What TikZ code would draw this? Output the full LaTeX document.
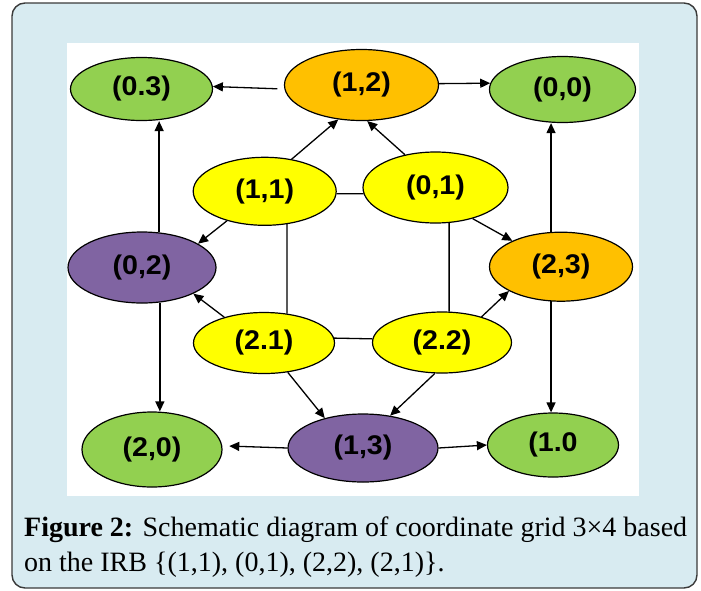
\documentclass[tikz,border=0pt]{standalone}
\usepackage{fontspec}
\setmainfont{Liberation Serif}
\newfontfamily\lblfont[FakeStretch=1.06]{Liberation Sans}
\usetikzlibrary{shapes.geometric,arrows.meta}

\definecolor{panelblue}{HTML}{D8EBF1}
\definecolor{framegray}{HTML}{3A3A3A}
\definecolor{cgreen}{HTML}{92D050}
\definecolor{corange}{HTML}{FFC000}
\definecolor{cyellow}{HTML}{FFFF00}
\definecolor{cpurple}{HTML}{8064A2}

\begin{document}
\begin{tikzpicture}[x=1pt,y=-1pt,
  cell/.style={ellipse, draw=black, line width=1.2pt, inner sep=0pt,
    font=\lblfont\bfseries\fontsize{27}{27}\selectfont},
  arr/.style={-{Triangle[length=10pt,width=9pt]}, line width=1.3pt},
  link/.style={line width=1.3pt}]

% page size and frame
\useasboundingbox (0,0) rectangle (701,590);
\draw[fill=panelblue, draw=framegray, line width=1.4pt, rounded corners=13pt]
  (12,3) rectangle (697,588);
\fill[white] (67,43) rectangle (639,496);

% grid cells
\node[cell, fill=cgreen,  minimum width=142pt, minimum height=63pt] (n03) at (141.5,89)  {(0.3)};
\node[cell, fill=corange, minimum width=154pt, minimum height=71pt] (n12) at (361.5,85)  {(1,2)};
\node[cell, fill=cgreen,  minimum width=146pt, minimum height=66pt] (n00) at (562.5,89.5) {(0,0)};
\node[cell, fill=cyellow, minimum width=143pt, minimum height=68pt] (n11) at (264.7,191.3) {(1,1)};
\node[cell, fill=cyellow, minimum width=145pt, minimum height=71pt] (n01) at (435.5,187.5) {(0,1)};
\node[cell, fill=cpurple, minimum width=148pt, minimum height=71pt] (n02) at (142,267.5)  {(0,2)};
\node[cell, fill=corange, minimum width=143pt, minimum height=69pt] (n23) at (561,266.7)  {(2,3)};
\node[cell, fill=cyellow, minimum width=141pt, minimum height=61pt] (n21) at (264,343)    {(2.1)};
\node[cell, fill=cyellow, minimum width=139pt, minimum height=61pt] (n22) at (442,342.5)  {(2.2)};
\node[cell, fill=cgreen,  minimum width=140pt, minimum height=75pt] (n20) at (152,449.5)  {(2,0)};
\node[cell, fill=cpurple, minimum width=150pt, minimum height=68pt] (n13) at (363,448)    {(1,3)};
\node[cell, fill=cgreen,  minimum width=131pt, minimum height=64pt] (n10) at (553,445)    {(1.0};

% top row
\draw[arr, shorten <=7pt] (n12.183) -- (n03.2);
\draw[arr] (n12.1) -- (n00.175);

% inner square
\draw[arr] (n11.50)  -- (n12.236);
\draw[arr] (n01.133) -- (n12.279);
\draw[link] (n11.358) -- (n01.185);
\draw[link] (n21.4)   -- (n22.177);
\draw[link] (n11.304) -- (n21.52);
\draw[link] (n01.291) -- (n22.77);

% diagonals to the side cells
\draw[arr] (n11.218) -- (n02.23);
\draw[arr] (n01.320) -- (n23.152);
\draw[arr] (n21.147) -- (n02.333);
\draw[arr] (n22.33)  -- (n23.205);
\draw[arr] (n21.309) -- (n13.142);
\draw[arr] (n22.257) -- (n13.50);

% outer columns
\draw[arr] (n02.64)  -- (n02.64 |- n03.south);
\draw[arr] (n02.297) -- (n02.297 |- n20.north);
\draw[arr] (n23.106) -- (n23.106 |- n00.south);
\draw[arr] (n23.254) -- (n23.254 |- n10.north);

% bottom row
\draw[arr, shorten >=7pt] (n13.west) -- (n20.3);
\draw[arr] (n13.east) -- (n10.west);

% caption (base anchor sits on the last line)
\node[anchor=base west, inner sep=0pt, align=left,
  font=\fontsize{28}{35}\selectfont] (cap) at (24,571)
  {\textbf{Figure 2:} Schematic diagram of coordinate grid 3×4 based\\
   on the IRB \{(1,1), (0,1), (2,2), (2,1)\}.};
\end{tikzpicture}
\end{document}
